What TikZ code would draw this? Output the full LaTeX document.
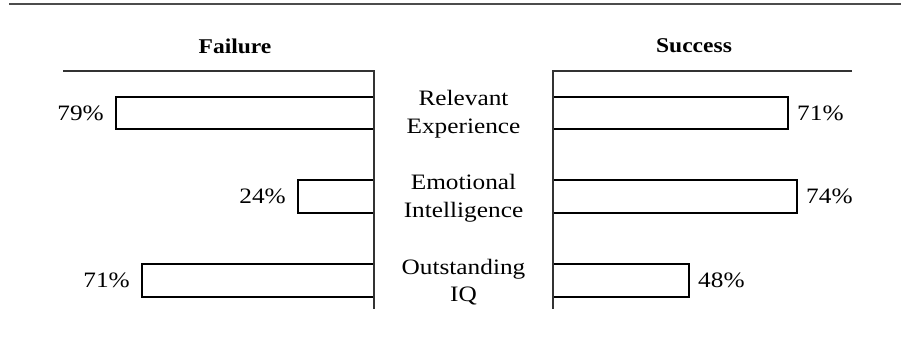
\documentclass[tikz,border=0pt]{standalone}
\usepackage{fontspec}
\setmainfont{Liberation Serif}[FakeStretch=1.15]
\newfontfamily\ttlfont{Liberation Serif}[FakeStretch=1.12]
\begin{document}
\begin{tikzpicture}[x=1pt,y=-1pt,
  bar/.style={draw=black,line width=1.9pt,fill=white,minimum height=32.5pt,inner sep=0pt,outer sep=0pt},
  axis/.style={draw=black!80,line width=1.6pt},
  rule/.style={draw=black!70,line width=2pt},
  pct/.style={inner sep=0pt,font=\fontsize{22}{28}\selectfont},
  cat/.style={inner sep=0pt,align=center,font=\fontsize{22}{27.5}\selectfont},
  ttl/.style={inner sep=0pt,font=\ttlfont\fontsize{21}{24}\selectfont\bfseries}]
\useasboundingbox (0,0) rectangle (901,341);
% top rule
\coordinate (r0) at (9,3.5);
\coordinate (r1) at (901,3.5);
\draw[rule] (r0) -- (r1);
% titles
\node[ttl] (fail) at (235,46) {Failure};
\node[ttl] (succ) at (694,46) {Success};
% bars left
\node[bar,anchor=east,minimum width=258pt] (bl1) at (374,113) {};
\node[bar,anchor=east,minimum width=76pt]  (bl2) at (374,196.5) {};
\node[bar,anchor=east,minimum width=232pt] (bl3) at (374,280.5) {};
% bars right
\node[bar,anchor=west,minimum width=235pt] (br1) at (553,113) {};
\node[bar,anchor=west,minimum width=244pt] (br2) at (553,196.5) {};
\node[bar,anchor=west,minimum width=136pt] (br3) at (553,280.5) {};
% axes
\coordinate (la) at (63,71);
\coordinate (lc) at (374,71);
\coordinate (lb) at (374,309);
\coordinate (ra) at (852,71);
\coordinate (rc) at (553,71);
\coordinate (rb) at (553,309);
\draw[axis] (la) -- (lc) -- (lb);
\draw[axis] (ra) -- (rc) -- (rb);
% percent labels
\node[pct,anchor=east] (pl1) at ([xshift=-12pt]bl1.west) {79\%};
\node[pct,anchor=east] (pl2) at ([xshift=-12pt]bl2.west) {24\%};
\node[pct,anchor=east] (pl3) at ([xshift=-12pt]bl3.west) {71\%};
\node[pct,anchor=west] (pr1) at ([xshift=9pt]br1.east) {71\%};
\node[pct,anchor=west] (pr2) at ([xshift=9pt]br2.east) {74\%};
\node[pct,anchor=west] (pr3) at ([xshift=9pt]br3.east) {48\%};
% categories
\node[cat] (c1) at (463.5,114) {Relevant\\Experience};
\node[cat] (c2) at (463.5,198) {Emotional\\Intelligence};
\node[cat] (c3) at (463.5,282) {Outstanding\\IQ};
\end{tikzpicture}
\end{document}
